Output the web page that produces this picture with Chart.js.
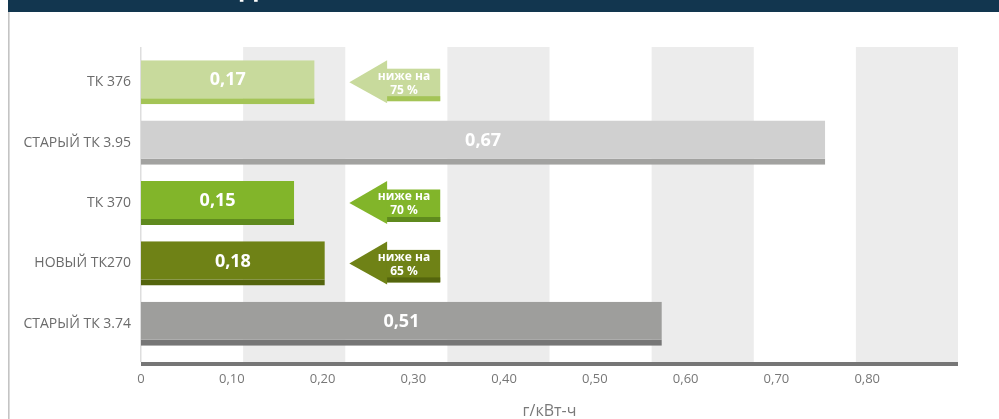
<!DOCTYPE html>
<html><head><meta charset="utf-8">
<script src="https://cdn.jsdelivr.net/npm/chart.js@4.4.1/dist/chart.umd.min.js"></script>
<style>
html,body{margin:0;padding:0;background:#fff;overflow:hidden}
#wrap{position:relative;width:999px;height:419px}
</style></head>
<body><div id="wrap"><canvas id="c" width="999" height="419"></canvas></div>
<script>
// ---- data ----
const categories = ['ТК 376', 'СТАРЫЙ ТК 3.95', 'ТК 370', 'НОВЫЙ ТК270', 'СТАРЫЙ ТК 3.74'];
const values = [0.17, 0.67, 0.15, 0.18, 0.51];
const valueLabels = ['0,17', '0,67', '0,15', '0,18', '0,51'];
const reductionPct = [75, null, 70, 65, null];
const reductionText = 'ниже на';
const tickLabels = ['0', '0,10', '0,20', '0,30', '0,40', '0,50', '0,60', '0,70', '0,80'];
const axisTitle = 'г/кВт-ч';
const headerFragment = 'Д';

// ---- styles ----
const barColors = ['#c8da9c', '#d0d0d0', '#82b52a', '#6f8216', '#9e9e9c'];
const stripColors = ['#a4c456', '#a2a2a0', '#5f8a1e', '#54650d', '#767676'];
const FONT = '"Open Sans", "DejaVu Sans", sans-serif';

const decor = {
  id: 'decor',
  beforeDraw(chart) {
    const ctx = chart.ctx, a = chart.chartArea, xs = chart.scales.x;
    ctx.save();
    // header band
    ctx.fillStyle = '#12364f';
    ctx.fillRect(8, 0, 991, 12);
    ctx.save();
    ctx.beginPath(); ctx.rect(8, 0, 991, 12); ctx.clip();
    ctx.fillStyle = '#ffffff';
    ctx.font = 'bold 24px ' + FONT;
    ctx.textAlign = 'center';
    ctx.textBaseline = 'alphabetic';
    ctx.fillText(headerFragment, 249, -3);
    ctx.restore();
    // left frame line
    ctx.fillStyle = '#c4c4c4';
    ctx.fillRect(8, 12, 1.6, 407);
    // alternating bands
    ctx.fillStyle = '#ececec';
    for (let k = 1; k < 8; k += 2) {
      const x0 = xs.getPixelForValue(k / 10), x1 = xs.getPixelForValue((k + 1) / 10);
      ctx.fillRect(x0, a.top - 5, x1 - x0, a.bottom + 8 - (a.top - 5));
    }
    // left axis line
    ctx.fillStyle = '#dedede';
    ctx.fillRect(a.left - 1, a.top - 5, 1.5, a.bottom + 8 - (a.top - 5));
    // bottom axis line
    ctx.fillStyle = '#767676';
    ctx.fillRect(a.left, a.bottom + 8, a.right - a.left, 4);
    ctx.restore();
  },
  afterDatasetsDraw(chart) {
    const ctx = chart.ctx, xs = chart.scales.x;
    const meta = chart.getDatasetMeta(0);
    ctx.save();
    ctx.textAlign = 'center';
    ctx.textBaseline = 'middle';
    meta.data.forEach((el, i) => {
      // value label
      ctx.fillStyle = '#ffffff';
      ctx.font = 'bold 18px ' + FONT;
      ctx.fillText(valueLabels[i], (el.x + el.base) / 2, el.y - 2);
      // arrow
      if (reductionPct[i] != null) {
        const y = el.y;
        const tip = xs.getPixelForValue(0.204);
        const neck = xs.getPixelForValue(0.241);
        const end = xs.getPixelForValue(0.293);
        ctx.fillStyle = barColors[i];
        ctx.beginPath();
        ctx.moveTo(tip, y);
        ctx.lineTo(neck, y - 22);
        ctx.lineTo(neck, y + 21);
        ctx.closePath();
        ctx.fill();
        ctx.fillRect(neck - 0.5, y - 13.5, end - neck + 0.5, 32.5);
        ctx.fillStyle = stripColors[i];
        ctx.fillRect(neck, y + 14, end - neck, 5);
        ctx.fillStyle = '#ffffff';
        ctx.font = 'bold 12px ' + FONT;
        ctx.fillText(reductionText, 404, y - 6);
        ctx.fillText(reductionPct[i] + ' %', 404, y + 8);
      }
    });
    ctx.restore();
  }
};

new Chart(document.getElementById('c'), {
  type: 'bar',
  data: {
    labels: categories,
    datasets: [{
      data: values,
      xAxisID: 'x',
      yAxisID: 'y',
      backgroundColor: barColors,
      borderColor: stripColors,
      borderWidth: {top: 0, right: 0, bottom: 6, left: 0},
      borderSkipped: false,
      categoryPercentage: 1,
      barPercentage: 0.73
    }]
  },
  options: {
    indexAxis: 'y',
    responsive: false,
    animation: false,
    devicePixelRatio: 1,
    events: [],
    layout: {padding: {top: 52, left: 0, right: 41, bottom: 0}},
    plugins: {legend: {display: false}, tooltip: {enabled: false}},
    scales: {
      y: {
        type: 'category',
        position: 'left',
        grid: {display: false, drawTicks: false},
        border: {display: false},
        ticks: {font: {family: FONT, size: 14}, color: '#6b6b6b', padding: 10},
        afterFit: s => { s.width = 141; }
      },
      x: {
        type: 'linear',
        min: 0, max: 0.8,
        display: false
      },
      x2: {
        type: 'linear',
        position: 'bottom',
        min: 0, max: 0.9,
        grid: {display: false, drawTicks: false},
        border: {display: false},
        ticks: {
          stepSize: 0.1, autoSkip: false, maxRotation: 0,
          font: {family: FONT, size: 13}, color: '#777777', padding: 17,
          callback: (v, i) => tickLabels[i] ?? ''
        },
        title: {
          display: true, text: axisTitle,
          font: {family: FONT, size: 16, lineHeight: 1}, color: '#7a7a7a',
          padding: {top: 0, bottom: 0}
        },
        afterFit: s => { s.height = 65; }
      }
    }
  },
  plugins: [decor]
});
</script>
</body></html>
